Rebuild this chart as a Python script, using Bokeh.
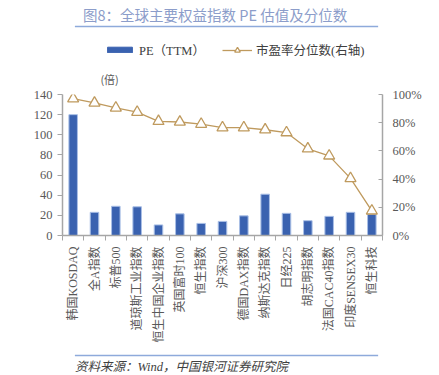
import math
from bokeh.plotting import figure
from bokeh.layouts import column
from bokeh.models import (Range1d, LinearAxis, FixedTicker, NumeralTickFormatter,
                          Legend, LegendItem, Label, ColumnDataSource)
from bokeh.embed import file_html
from bokeh.resources import INLINE

categories = ["韩国KOSDAQ", "全A指数", "标普500", "道琼斯工业指数", "恒生中国企业指数",
              "英国富时100", "恒生指数", "沪深300", "德国DAX指数", "纳斯达克指数",
              "日经225", "胡志明指数", "法国CAC40指数", "印度SENSEX30", "恒生科技"]
pe_ttm = [120, 23, 29, 28.5, 10.5, 21.5, 12, 14, 19.5, 41, 22, 14.7, 19, 23, 21]
pe_pct = [0.97, 0.94, 0.905, 0.875, 0.81, 0.805, 0.79, 0.765, 0.765, 0.75, 0.73,
          0.615, 0.565, 0.405, 0.175]
left_ticks = [0, 20, 40, 60, 80, 100, 120, 140]
right_ticks = [0, 0.2, 0.4, 0.6, 0.8, 1.0]

title_text = "图8：全球主要权益指数 PE 估值及分位数"
unit_text = "(倍)"
bar_label = "PE（TTM）"
line_label = "市盈率分位数(右轴)"
source_text = "资料来源：Wind，中国银河证券研究院"

W = 439
HEAD_H, MAIN_H, FOOT_H = 86, 259, 30
FL, FR = 62, 382
LEG_SHIFT = 62  # observed horizontal offset of legend placement in the header

SERIF = "Liberation Serif, Noto Sans CJK SC"
CJK = "Noto Sans CJK SC"
GRAY_TXT = "#595959"
AX = "#a6a6a6"
BAR_FILL = "#3a62b0"
BAR_LINE = "#a9bfe6"
LINE_C = "#bf9a5e"
RULE_C = "#8eaadb"


def blank(h):
    f = figure(width=W, height=h, output_backend="svg", toolbar_location=None,
               x_range=Range1d(0, W), y_range=Range1d(h, 0),
               min_border=0, x_axis_location=None, y_axis_location=None)
    f.outline_line_color = None
    f.grid.visible = False
    f.background_fill_color = "white"
    f.border_fill_color = "white"
    return f


# ---------- header: title, rule, legend, unit ----------
head = blank(HEAD_H)
head.add_layout(Label(x=28, y=14, text=title_text, text_font=CJK, text_font_size="14.5px",
                      text_color="#8c9dca", text_baseline="middle", text_align="left"))
head.segment(x0=[17], y0=[26], x1=[433], y1=[26], line_color=RULE_C, line_width=1.6)
head.add_layout(Label(x=52, y=78, text=unit_text, text_font=CJK, text_font_size="11px",
                      text_color=GRAY_TXT, text_baseline="middle", text_align="left"))
# legend-key renderers (no visible data; they only supply the legend swatches)
nan = float("nan")
key_src = ColumnDataSource(dict(x=[nan], y=[nan], top=[nan]))
hb = head.vbar(x="x", top="top", width=1, source=key_src, fill_color=BAR_FILL, line_color=BAR_FILL)
hl = head.line(x="x", y="y", source=key_src, line_color=LINE_C, line_width=1.3)
hm = head.scatter(x="x", y="y", source=key_src, marker="triangle", size=11,
                  fill_color="white", line_color=LINE_C, line_width=1.3)
lg1 = Legend(items=[LegendItem(label=bar_label, renderers=[hb], index=0)],
             location=(104 - LEG_SHIFT, HEAD_H - 59), orientation="horizontal",
             glyph_width=31, glyph_height=7, padding=0, margin=0, label_standoff=4,
             border_line_color=None, background_fill_alpha=0,
             label_text_font=SERIF, label_text_font_size="12.5px", label_text_color="#404040")
lg2 = Legend(items=[LegendItem(label=line_label, renderers=[hl, hm], index=0)],
             location=(222 - LEG_SHIFT, HEAD_H - 59), orientation="horizontal",
             glyph_width=30, glyph_height=14, padding=0, margin=0, label_standoff=4,
             border_line_color=None, background_fill_alpha=0,
             label_text_font=SERIF, label_text_font_size="12.5px", label_text_color="#404040")
head.add_layout(lg1, "center")
head.add_layout(lg2, "center")

# ---------- main chart ----------
xs = list(range(len(categories)))
src = ColumnDataSource(dict(x=xs, pe=pe_ttm, pct=pe_pct, name=categories))

p = figure(width=W, height=MAIN_H, output_backend="svg", toolbar_location=None,
           x_range=Range1d(-0.5, len(categories) - 0.5), y_range=Range1d(0, 140),
           min_border_left=FL, min_border_right=W - FR, min_border_top=8,
           min_border_bottom=MAIN_H - 151, x_axis_location=None, y_axis_location=None)
p.outline_line_color = None
p.grid.visible = False
p.background_fill_color = "white"
p.border_fill_color = "white"
p.extra_y_ranges = {"pct": Range1d(0, 1)}

xaxis = LinearAxis(ticker=FixedTicker(ticks=xs, minor_ticks=[i - 0.5 for i in range(len(categories) + 1)]),
                   major_label_overrides={i: c for i, c in enumerate(categories)})
xaxis.major_label_orientation = math.pi / 2
xaxis.major_tick_out = 0
xaxis.major_tick_in = 0
xaxis.minor_tick_out = 5
xaxis.minor_tick_in = 0
xaxis.minor_tick_line_color = AX
xaxis.axis_line_color = AX
xaxis.axis_line_width = 1.5
xaxis.major_label_text_font = SERIF
xaxis.major_label_text_font_size = "12px"
xaxis.major_label_text_color = GRAY_TXT
xaxis.major_label_standoff = 6
p.add_layout(xaxis, "below")

yaxis = LinearAxis(ticker=FixedTicker(ticks=left_ticks))
yaxis.major_tick_out = 5
yaxis.major_tick_in = 0
yaxis.minor_tick_line_color = None
yaxis.axis_line_color = AX
yaxis.axis_line_width = 1.5
yaxis.major_tick_line_color = AX
yaxis.major_label_text_font = SERIF
yaxis.major_label_text_font_size = "12.5px"
yaxis.major_label_text_color = GRAY_TXT
yaxis.major_label_standoff = 5
p.add_layout(yaxis, "left")

raxis = LinearAxis(y_range_name="pct", ticker=FixedTicker(ticks=right_ticks),
                   formatter=NumeralTickFormatter(format="0%"))
raxis.major_tick_out = 0
raxis.major_tick_in = 4
raxis.minor_tick_line_color = None
raxis.axis_line_color = AX
raxis.axis_line_width = 1.5
raxis.major_tick_line_color = AX
raxis.major_label_text_font = SERIF
raxis.major_label_text_font_size = "12.5px"
raxis.major_label_text_color = GRAY_TXT
raxis.major_label_standoff = 10
p.add_layout(raxis, "right")

p.vbar(x="x", top="pe", width=0.4, source=src, fill_color=BAR_FILL,
       line_color=BAR_LINE, line_width=1)
p.line(x="x", y="pct", source=src, y_range_name="pct", line_color=LINE_C, line_width=1.3)
p.scatter(x="x", y="pct", source=src, y_range_name="pct", marker="triangle", size=11,
          fill_color="white", line_color=LINE_C, line_width=1.3)

# ---------- footer ----------
foot = blank(FOOT_H)
foot.segment(x0=[17], y0=[10], x1=[433], y1=[10], line_color=RULE_C, line_width=1.6)
foot.add_layout(Label(x=17, y=21, text=source_text, text_font=SERIF, text_font_size="12.5px",
                      text_color="#404040", text_font_style="italic",
                      text_baseline="middle", text_align="left"))

layout = column(head, p, foot, spacing=0)
open("out.html", "w").write(file_html(layout, INLINE))
